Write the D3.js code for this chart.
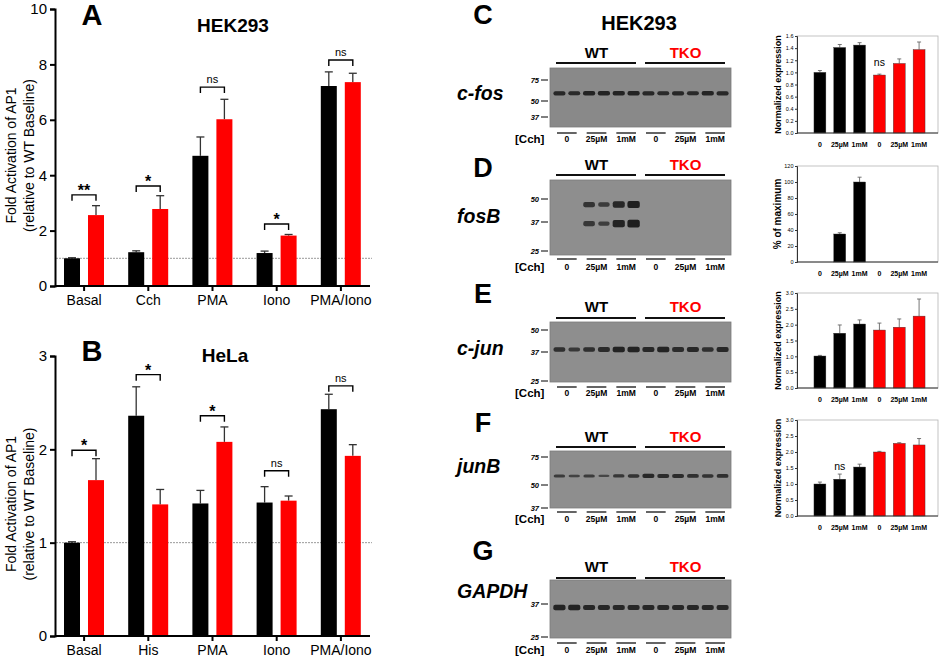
<!DOCTYPE html>
<html lang="en">
<head>
<meta charset="UTF-8">
<title>AP1 activation and immediate early genes</title>
<style>
  body, html { margin: 0; padding: 0; background: #fff; }
  svg { display: block; font-family: 'Liberation Sans', Arial, sans-serif; }
</style>
</head>
<body>
<svg id="svg" width="941" height="658"></svg>
<script src="https://d3js.org/d3.v7.min.js"></script>
<script>
// ---------- data: reporter assays (A, B) ----------
const groupsA = ['Basal', 'Cch', 'PMA', 'Iono', 'PMA/Iono']
const wtA = [1.0, 1.22, 4.70, 1.19, 7.22]
const wtErrA = [0.02, 0.05, 0.68, 0.07, 0.51]
const tkoA = [2.56, 2.78, 6.02, 1.82, 7.36]
const tkoErrA = [0.34, 0.48, 0.72, 0.04, 0.32]
const sigA = ['**', '*', 'ns', '*', 'ns']
const sigLevelA = [3.29, 3.61, 7.18, 2.24, 8.16]
const ticksA = [0, 2, 4, 6, 8, 10]

const groupsB = ['Basal', 'His', 'PMA', 'Iono', 'PMA/Iono']
const wtB = [1.0, 2.36, 1.42, 1.43, 2.43]
const wtErrB = [0.01, 0.31, 0.14, 0.17, 0.16]
const tkoB = [1.67, 1.41, 2.08, 1.45, 1.93]
const tkoErrB = [0.23, 0.16, 0.16, 0.05, 0.12]
const sigB = ['*', '*', '*', 'ns', 'ns']
const sigLevelB = [1.99, 2.80, 2.36, 1.77, 2.68]
const ticksB = [0, 1, 2, 3]

// ---------- data: western blots (C-G) ----------
const genotypes = ['WT', 'TKO']
const conditions = ['0', '25\u00b5M', '1mM']
const cfosBands = [0.85, 0.8, 0.9, 0.9, 0.9, 0.9, 0.85, 0.8, 0.85, 0.8, 0.9, 0.85]
const fosbUpper = [0, 0, 0.7, 0.6, 0.85, 0.95, 0, 0, 0, 0, 0, 0]
const fosbLower = [0, 0, 0.65, 0.55, 0.9, 0.95, 0, 0, 0, 0, 0, 0]
const cjunBands = [0.75, 0.65, 0.75, 0.8, 0.9, 0.9, 0.85, 0.9, 0.8, 0.85, 0.75, 0.85]
const junbBands = [0.6, 0.5, 0.6, 0.45, 0.65, 0.7, 0.85, 0.8, 0.8, 0.75, 0.7, 0.75]
const gapdhBands = [0.9, 0.9, 0.85, 0.85, 0.85, 0.85, 0.85, 0.85, 0.85, 0.85, 0.85, 0.85]

// ---------- data: quantification ----------
const cfosExpr = [1.0, 1.41, 1.45, 0.956, 1.147, 1.376]
const cfosErr = [0.03, 0.05, 0.04, 0.015, 0.075, 0.125]
const fosbPct = [0, 35, 100, 0, 0, 0]
const fosbErr = [0, 1.6, 6, 0, 0, 0]
const cjunExpr = [1.01, 1.73, 2.02, 1.83, 1.92, 2.27]
const cjunErr = [0.02, 0.26, 0.13, 0.22, 0.26, 0.54]
const junbExpr = [1.0, 1.15, 1.53, 2.0, 2.27, 2.22]
const junbErr = [0.06, 0.16, 0.09, 0.02, 0.02, 0.2]

const RED = '#ff0000'
const svg = d3.select('#svg')

svg.append('defs').append('filter').attr('id', 'blur')
  .append('feGaussianBlur').attr('stdDeviation', 0.6)

// ---------- grouped bar panel (A / B) ----------
function groupedPanel(o) {
  const g = svg.append('g')
  const y = d3.scaleLinear().domain([0, o.max]).range([o.bottom, o.top])
  const x0 = d3.scaleBand().domain(o.groups).range([52, 373])
  const x1 = d3.scaleBand().domain(genotypes).range([12, 52]).paddingInner(1 / 3)

  // WT baseline
  g.append('line')
    .attr('x1', 56).attr('x2', 372)
    .attr('y1', y(1)).attr('y2', y(1))
    .attr('stroke', '#999').attr('stroke-width', 1)
    .attr('stroke-dasharray', '2,1')

  const bars = o.groups.flatMap((grp, i) => [
    { grp, geno: 'WT', v: o.wt[i], e: o.wtErr[i] },
    { grp, geno: 'TKO', v: o.tko[i], e: o.tkoErr[i] }
  ])
  const cx = d => x0(d.grp) + x1(d.geno) + x1.bandwidth() / 2

  // error bars (upper only)
  const err = g.selectAll('.err').data(bars).join('g')
    .attr('stroke', '#333').attr('stroke-width', 1.3)
  err.append('line')
    .attr('x1', cx).attr('x2', cx)
    .attr('y1', d => y(d.v)).attr('y2', d => y(d.v + d.e))
  err.append('line')
    .attr('x1', d => cx(d) - 4).attr('x2', d => cx(d) + 4)
    .attr('y1', d => y(d.v + d.e)).attr('y2', d => y(d.v + d.e))

  g.selectAll('.bar').data(bars).join('rect')
    .attr('x', d => x0(d.grp) + x1(d.geno))
    .attr('width', x1.bandwidth())
    .attr('y', d => y(d.v))
    .attr('height', d => y(0) - y(d.v))
    .attr('fill', d => d.geno === 'WT' ? '#000' : RED)

  // significance brackets
  const sig = g.selectAll('.sig').data(o.groups).join('g')
  const xa = grp => x0(grp) + x1('WT') + x1.bandwidth() / 2
  const xb = grp => x0(grp) + x1('TKO') + x1.bandwidth() / 2
  sig.append('path')
    .attr('d', (grp, i) => {
      const yy = y(o.level[i])
      return `M${xa(grp)},${yy + 6}V${yy}H${xb(grp)}V${yy + 6}`
    })
    .attr('fill', 'none').attr('stroke', '#000').attr('stroke-width', 1.4)
  sig.append('text')
    .attr('x', grp => (xa(grp) + xb(grp)) / 2)
    .attr('y', (grp, i) => y(o.level[i]) - (o.sig[i] === 'ns' ? 4 : -1))
    .attr('text-anchor', 'middle')
    .attr('font-size', (grp, i) => o.sig[i] === 'ns' ? 11 : 16)
    .attr('font-weight', (grp, i) => o.sig[i] === 'ns' ? 'normal' : 'bold')
    .text((grp, i) => o.sig[i])

  // axes
  const ya = g.append('g').attr('transform', 'translate(55,0)')
    .call(d3.axisLeft(y).tickValues(o.ticks).tickSize(5).tickPadding(3).tickFormat(d3.format('d')))
  ya.selectAll('text').attr('font-size', 15).attr('font-family', 'Liberation Sans')
  const xa2 = g.append('g').attr('transform', `translate(0,${o.bottom})`)
    .call(d3.axisBottom(x0).tickSize(5).tickSizeOuter(0).tickPadding(4))
  xa2.select('.domain').attr('d', 'M55,0H370')
  xa2.selectAll('text').attr('font-size', 14).attr('font-family', 'Liberation Sans')
  g.selectAll('.domain, .tick line').attr('stroke', '#000').attr('stroke-width', 2)

  // y label
  const yc = (o.top + o.bottom) / 2 + 8
  g.append('text').attr('transform', `translate(16,${yc}) rotate(-90)`)
    .attr('text-anchor', 'middle').attr('font-size', 14)
    .text('Fold Activation of AP1')
  g.append('text').attr('transform', `translate(34,${yc}) rotate(-90)`)
    .attr('text-anchor', 'middle').attr('font-size', 14)
    .text('(relative to WT Baseline)')

  g.append('text').attr('x', 92).attr('y', o.letterY)
    .attr('text-anchor', 'middle').attr('font-size', 29).attr('font-weight', 'bold')
    .text(o.letter)
  g.append('text').attr('x', o.titleX).attr('y', o.titleY)
    .attr('text-anchor', 'middle').attr('font-size', 19).attr('font-weight', 'bold')
    .text(o.title)
}

groupedPanel({
  groups: groupsA, wt: wtA, wtErr: wtErrA, tko: tkoA, tkoErr: tkoErrA,
  sig: sigA, level: sigLevelA, ticks: ticksA, max: 10,
  top: 9, bottom: 286, letter: 'A', letterY: 25,
  title: 'HEK293', titleX: 233, titleY: 32
})
groupedPanel({
  groups: groupsB, wt: wtB, wtErr: wtErrB, tko: tkoB, tkoErr: tkoErrB,
  sig: sigB, level: sigLevelB, ticks: ticksB, max: 3,
  top: 356, bottom: 636, letter: 'B', letterY: 361,
  title: 'HeLa', titleX: 225, titleY: 362
})

// ---------- western blots ----------
const lanes = genotypes.flatMap(gt => conditions.flatMap(c => [gt + c + 'a', gt + c + 'b']))
const lane = d3.scaleBand().domain(lanes).range([552, 730])
const step = lane.step()

function blot(o) {
  const g = svg.append('g')
  const mw = d3.scaleLog().domain(o.markers.map(m => m[0])).range(o.markers.map(m => m[1]))

  g.append('text').attr('x', 483).attr('y', o.letterY)
    .attr('text-anchor', 'middle').attr('font-size', 27).attr('font-weight', 'bold')
    .text(o.letter)
  g.append('text').attr('x', 457).attr('y', o.geneY)
    .attr('font-size', 19.5).attr('font-weight', 'bold').attr('font-style', 'italic')
    .text(o.gene)

  // genotype headers
  genotypes.forEach((gt, i) => {
    const first = lane(gt + conditions[0] + 'a')
    const last = lane(gt + conditions[2] + 'b')
    g.append('line').attr('x1', first + 4).attr('x2', last + step - 5)
      .attr('y1', o.lineY).attr('y2', o.lineY)
      .attr('stroke', '#111').attr('stroke-width', 1.8)
    g.append('text').attr('x', (first + last + step) / 2).attr('y', o.labelY)
      .attr('text-anchor', 'middle').attr('font-size', 15).attr('font-weight', 'bold')
      .attr('fill', i === 0 ? '#000' : RED)
      .text(gt)
  })

  // membrane
  g.append('rect').attr('x', 550).attr('y', o.top)
    .attr('width', 181).attr('height', o.bottom - o.top)
    .attr('fill', o.fill || '#8e8e8e').attr('stroke', '#7a7a7a').attr('stroke-width', 0.8)

  // size markers
  o.markers.forEach(m => {
    g.append('text').attr('x', 539).attr('y', mw(m[0]) + 2.5)
      .attr('text-anchor', 'end').attr('font-size', 7.5)
      .attr('font-weight', 'bold').attr('font-style', 'italic')
      .text(m[0])
    g.append('line').attr('x1', 541).attr('x2', 548)
      .attr('y1', mw(m[0])).attr('y2', mw(m[0]))
      .attr('stroke', '#000').attr('stroke-width', 1)
  })

  // bands
  o.bands.forEach(b => {
    const data = lanes.map((id, i) => ({ id, v: b.values[i] })).filter(d => d.v > 0)
    g.selectAll(null).data(data).join('rect')
      .attr('x', d => lane(d.id) + step * (0.5 - 0.42 * (0.8 + 0.2 * d.v)))
      .attr('width', d => step * 0.84 * (0.8 + 0.2 * d.v))
      .attr('y', d => mw(b.mw) - b.thick * d.v / 2)
      .attr('height', d => b.thick * d.v)
      .attr('rx', 2)
      .attr('fill', '#161616')
      .attr('opacity', d => 0.3 + 0.65 * d.v)
      .attr('filter', 'url(#blur)')
  })

  // treatment row
  g.append('text').attr('x', 515).attr('y', o.laneLabelY + 1)
    .attr('font-size', 11.5).attr('font-weight', 'bold').text('[Cch]')
  genotypes.forEach(gt => conditions.forEach(c => {
    const a = lane(gt + c + 'a')
    g.append('line').attr('x1', a + 5).attr('x2', a + 2 * step - 5)
      .attr('y1', o.laneLineY).attr('y2', o.laneLineY)
      .attr('stroke', '#111').attr('stroke-width', 1.3)
    g.append('text').attr('x', a + step).attr('y', o.laneLabelY)
      .attr('text-anchor', 'middle').attr('font-size', 8.5).attr('font-weight', 'bold')
      .text(c)
  }))
}

svg.append('text').attr('x', 639).attr('y', 30)
  .attr('text-anchor', 'middle').attr('font-size', 20).attr('font-weight', 'bold')
  .text('HEK293')

blot({
  letter: 'C', letterY: 24, gene: 'c-fos', geneY: 100,
  labelY: 58, lineY: 63, top: 68, bottom: 127, laneLineY: 133, laneLabelY: 142,
  markers: [[75, 80], [50, 101], [37, 117]], fill: '#898989',
  bands: [{ mw: 58, values: cfosBands, thick: 5 }]
})
blot({
  letter: 'D', letterY: 177, gene: 'fosB', geneY: 223,
  labelY: 170, lineY: 175, top: 180, bottom: 255, laneLineY: 259, laneLabelY: 270,
  markers: [[50, 199], [37, 222], [25, 251]],
  bands: [{ mw: 46.5, values: fosbUpper, thick: 7.5 }, { mw: 36.2, values: fosbLower, thick: 8 }]
})
blot({
  letter: 'E', letterY: 303, gene: 'c-jun', geneY: 355,
  labelY: 312, lineY: 318, top: 322, bottom: 382, laneLineY: 387, laneLabelY: 396,
  markers: [[50, 330], [37, 352], [25, 381]],
  bands: [{ mw: 38.3, values: cjunBands, thick: 6 }]
})
blot({
  letter: 'F', letterY: 432, gene: 'junB', geneY: 473,
  labelY: 442, lineY: 447, top: 451, bottom: 508, laneLineY: 512, laneLabelY: 522,
  markers: [[75, 457], [50, 485], [37, 508]],
  bands: [{ mw: 57, values: junbBands, thick: 5 }]
})
blot({
  letter: 'G', letterY: 560, gene: 'GAPDH', geneY: 598,
  labelY: 572, lineY: 578, top: 580, bottom: 638, laneLineY: 643, laneLabelY: 653,
  markers: [[37, 604], [25, 637]],
  bands: [{ mw: 35.5, values: gapdhBands, thick: 6 }]
})

// ---------- quantification charts ----------
const quantX = d3.scaleBand().domain(lanes.filter((d, i) => i % 2 === 0))
  .range([810, 929]).paddingInner(0.4).paddingOuter(0.2)

function quant(o) {
  const g = svg.append('g')
  const y = d3.scaleLinear().domain([0, o.max]).range([o.bottom, o.top])
  const cats = quantX.domain()
  const data = cats.map((id, i) => ({ id, v: o.values[i], e: o.errs[i], tko: i > 2 }))

  g.append('rect').attr('x', 797).attr('y', o.top)
    .attr('width', 141).attr('height', o.bottom - o.top)
    .attr('fill', 'none').attr('stroke', '#b5b5b5').attr('stroke-width', 0.8)

  const shown = data.filter(d => d.v > 0)
  const cx = d => quantX(d.id) + quantX.bandwidth() / 2
  const err = g.selectAll('.err').data(shown.filter(d => d.e > 0)).join('g')
    .attr('stroke', '#666').attr('stroke-width', 0.9)
  err.append('line').attr('x1', cx).attr('x2', cx)
    .attr('y1', d => y(d.v)).attr('y2', d => y(d.v + d.e))
  err.append('line').attr('x1', d => cx(d) - 2).attr('x2', d => cx(d) + 2)
    .attr('y1', d => y(d.v + d.e)).attr('y2', d => y(d.v + d.e))

  g.selectAll('.bar').data(shown).join('rect')
    .attr('x', d => quantX(d.id)).attr('width', quantX.bandwidth())
    .attr('y', d => y(d.v)).attr('height', d => y(0) - y(d.v))
    .attr('fill', d => d.tko ? RED : '#000')
    .attr('stroke', '#333').attr('stroke-width', 0.4)

  const ya = g.append('g').attr('transform', 'translate(797,0)')
    .call(d3.axisLeft(y).tickValues(o.ticks).tickSize(2).tickPadding(1.5).tickFormat(o.fmt))
  ya.selectAll('text').attr('font-size', 5.5).attr('font-family', 'Liberation Sans')
  g.append('line').attr('x1', 797).attr('x2', 938).attr('y1', o.bottom).attr('y2', o.bottom)
    .attr('stroke', '#333').attr('stroke-width', 1)
  g.selectAll('.domain, .tick line').attr('stroke', '#333').attr('stroke-width', 1)

  g.selectAll('.xl').data(data).join('text')
    .attr('x', cx).attr('y', o.bottom + 14)
    .attr('text-anchor', 'middle').attr('font-size', 7).attr('font-weight', 'bold')
    .text((d, i) => conditions[i % 3])

  g.append('text').attr('transform', `translate(781,${(o.top + o.bottom) / 2}) rotate(-90)`)
    .attr('text-anchor', 'middle').attr('font-size', o.labelSize || 9).attr('font-weight', 'bold')
    .text(o.label)

  if (o.ns !== undefined) {
    g.append('text').attr('x', cx(data[o.ns])).attr('y', y(o.nsLevel))
      .attr('text-anchor', 'middle').attr('font-size', 10.5).text('ns')
  }
}

const f1 = d3.format('.1f')
quant({ values: cfosExpr, errs: cfosErr, max: 1.6, ticks: d3.range(0, 1.61, 0.2), fmt: f1,
  top: 36, bottom: 133, label: 'Normalized expression', ns: 3, nsLevel: 1.1 })
quant({ values: fosbPct, errs: fosbErr, max: 120, ticks: [0, 20, 40, 60, 80, 100, 120], fmt: d3.format('d'),
  top: 166, bottom: 262, label: '% of maximum', labelSize: 10 })
quant({ values: cjunExpr, errs: cjunErr, max: 3, ticks: [0, 0.5, 1, 1.5, 2, 2.5, 3], fmt: f1,
  top: 293, bottom: 388, label: 'Normalized expression' })
quant({ values: junbExpr, errs: junbErr, max: 3, ticks: [0, 0.5, 1, 1.5, 2, 2.5, 3], fmt: f1,
  top: 420, bottom: 516, label: 'Normalized expression', ns: 1, nsLevel: 1.44 })
</script>
</body>
</html>
